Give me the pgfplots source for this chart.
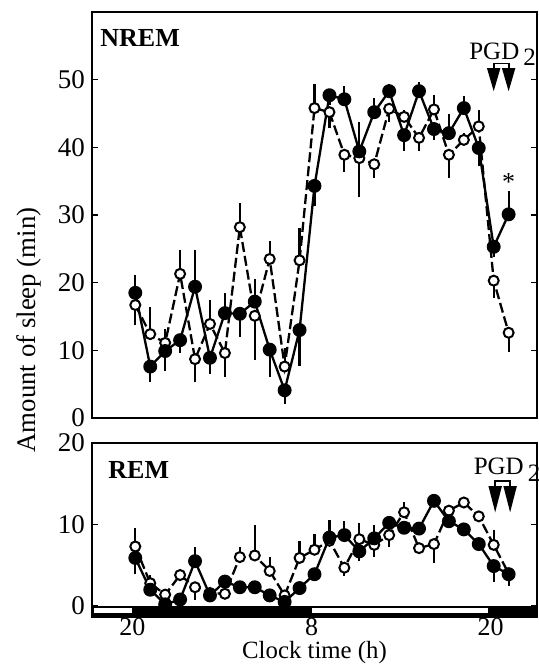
\documentclass[border=0pt]{standalone}
\usepackage{pgfplots}
\pgfplotsset{compat=1.18}
\usepackage{pgfplotstable}
\usepackage{fontspec}
\setmainfont{Liberation Serif}

% NREM, vehicle-like (filled) and open series; hours after 20:00
\pgfplotstableread{
x y ep em
0 18.5 2.7 0
1 7.6 0 2.3
2 9.9 0 2.9
3 11.5 0 1.9
4 19.4 5.5 0
5 8.9 0 2.4
6 15.5 3.0 0
7 15.4 0 3.5
8 17.2 3.3 0
9 10.1 0 4.1
10 4.1 0 2.0
11 13.0 0 5.3
12 34.3 0 3.0
13 47.7 0 1.5
14 47.1 2.0 0
15 39.4 4.4 6.7
16 45.2 2.1 0
17 48.3 1.0 0
18 41.8 0 2.4
19 48.3 1.3 0
20 42.7 0 1.6
21 42.1 2.9 0
22 45.8 1.8 0
23 39.9 0 2.7
24 25.3 0 1.5
25 30.1 3.5 0
}\nremF
\pgfplotstableread{
x y ep em
0 16.7 0 2.9
1 12.4 4.0 0
2 11.1 2.0 0
3 21.3 3.5 0
4 8.7 0 3.4
5 13.9 3.5 0
6 9.6 0 3.6
7 28.2 3.6 0
8 15.1 0 6.6
9 23.5 2.7 0
10 7.6 2.8 0
11 23.3 4.8 0
12 45.8 3.5 0
13 45.2 0 2.4
14 38.9 0 2.5
15 38.4 0 0
16 37.5 0 2.1
17 45.7 0 1.9
18 44.5 1.0 0
19 41.4 0 2.0
20 45.6 2.1 0
21 38.9 0 3.5
22 41.1 1.0 0
23 43.1 2.4 0
24 20.3 0 2.5
25 12.6 0 2.9
}\nremO
\pgfplotstableread{
x y ep em
0 5.9 0 2.0
1 2.0 0 0
2 0.2 0 0
3 0.8 0 0
4 5.5 1.8 0
5 1.3 0 0
6 3.0 0 0
7 2.3 0 0
8 2.3 0 0
9 1.3 0 0
10 0.5 0 0
11 2.2 0 0
12 3.9 0 0
13 8.4 2.1 0
14 8.7 1.7 0
15 6.7 0 1.2
16 8.3 1.6 0
17 10.2 0 0
18 9.6 0 0
19 9.5 0 0
20 12.9 0.8 0
21 10.4 0 0
22 9.4 0 0
23 7.6 0 0
24 4.9 0 2.0
25 3.9 0 1.5
}\remF
\pgfplotstableread{
x y ep em
0 7.3 2.3 0
1 2.8 1.0 0
2 1.4 0 0
3 3.8 0 0
4 2.3 0 1.6
5 1.6 0 0
6 1.5 0 0
7 6.0 1.2 0
8 6.2 3.7 0
9 4.3 1.7 0
10 1.3 0 0
11 5.9 2.1 0
12 6.9 1.9 0
13 8.0 0 0
14 4.7 0 1.0
15 8.2 2.0 0
16 7.5 0 1.5
17 8.7 0 1.5
18 11.5 1.2 0
19 7.1 0 0
20 7.6 0 2.3
21 11.7 0 0
22 12.7 0 0
23 11.0 0 0
24 7.5 1.8 0
25 4.0 0 0
}\remO

\pgfplotsset{
  sleepaxis/.style={
    scale only axis, width=222.5pt,
    xmin=-2.9, xmax=26.9,
    axis line style={line width=1.3pt},
    tick style={line width=0.8pt, black},
    major tick length=3pt,
    tick align=inside,
    clip=false,
    ticklabel style={font=\fontsize{13.5}{15}\selectfont},
    /pgf/number format/assume math mode=true,
  },
  filledser/.style={
    black, line width=1.15pt, solid,
    mark=*, mark size=2.9pt, mark options={solid, fill=black},
    error bars/y dir=both, error bars/y explicit,
    error bars/error mark=none,
    error bars/error bar style={line width=1.1pt, solid},
  },
  openser/.style={
    black, line width=1.15pt, dash pattern=on 5pt off 2pt,
    mark=*, mark size=2.5pt, mark options={solid, fill=white, line width=1pt},
    error bars/y dir=both, error bars/y explicit,
    error bars/error mark=none,
    error bars/error bar style={line width=1.1pt, solid},
  },
}

\begin{document}
\begin{tikzpicture}
\useasboundingbox (0,0) rectangle (269.5pt,-332pt);

% NREM panel
\begin{axis}[sleepaxis, at={(46pt,-209pt)}, anchor=south west,
  height=203pt, ymin=0, ymax=60, ytick={0,10,...,50}, xtick=\empty]
  \addplot[openser] table[x=x, y=y, y error plus=ep, y error minus=em] {\nremO};
  \addplot[filledser] table[x=x, y=y, y error plus=ep, y error minus=em] {\nremF};
  \node[anchor=west, font=\bfseries\fontsize{13}{15}\selectfont, inner sep=0pt]
    at (rel axis cs:0.018,0.936) {NREM};
  \node[font=\fontsize{13}{15}\selectfont, inner sep=0pt] at (axis cs:25,34.9) {*};
  \node[anchor=base, font=\fontsize{12.5}{14}\selectfont, inner sep=0pt]
    at (axis cs:24.6,53.0) {PGD\,\raisebox{-0.55ex}{2}};
  \draw[line width=0.9pt] (axis cs:24,51.7) -- (axis cs:24,52.4) -- (axis cs:25,52.4) -- (axis cs:25,51.7);
  \fill (axis cs:23.55,51.7) -- (axis cs:24.45,51.7) -- (axis cs:24,48.3) -- cycle;
  \fill (axis cs:24.55,51.7) -- (axis cs:25.45,51.7) -- (axis cs:25,48.3) -- cycle;
\end{axis}

% REM panel
\begin{axis}[sleepaxis, at={(46pt,-308.5pt)}, anchor=south west,
  height=87pt, ymin=-1.35, ymax=20, ytick={0,10,20},
  xtick={-0.2,11.8,23.8}, xticklabels={20,8,20},
  xtick style={draw=none},
  xticklabel style={anchor=base, yshift=-9.0pt, inner sep=0pt,
    font=\fontsize{13}{14}\selectfont},
  xlabel={Clock time (h)},
  xlabel style={at={(rel axis cs:0.5,0)}, anchor=base, yshift=-20.9pt,
    inner sep=0pt, font=\fontsize{12.4}{13}\selectfont}]
  \fill[black] (axis cs:-2.9,-1.35) rectangle (axis cs:26.9,0.05);
  \fill[white] (axis cs:-2.75,-0.85) rectangle (axis cs:-0.2,-0.3);
  \fill[white] (axis cs:11.85,-0.85) rectangle (axis cs:23.6,-0.3);
  \addplot[openser] table[x=x, y=y, y error plus=ep, y error minus=em] {\remO};
  \addplot[filledser] table[x=x, y=y, y error plus=ep, y error minus=em] {\remF};
  \node[anchor=west, font=\bfseries\fontsize{13}{15}\selectfont, inner sep=0pt]
    at (rel axis cs:0.036,0.845) {REM};
  \node[anchor=base, font=\fontsize{12.5}{14}\selectfont, inner sep=0pt]
    at (axis cs:24.9,16.1) {PGD\,\raisebox{-0.55ex}{2}};
  \draw[line width=0.9pt] (axis cs:24.1,14.7) -- (axis cs:24.1,15.3) -- (axis cs:25.1,15.3) -- (axis cs:25.1,14.7);
  \fill (axis cs:23.65,14.7) -- (axis cs:24.55,14.7) -- (axis cs:24.1,11.5) -- cycle;
  \fill (axis cs:24.65,14.7) -- (axis cs:25.55,14.7) -- (axis cs:25.1,11.5) -- cycle;
\end{axis}

\node[rotate=90, font=\fontsize{13.4}{15}\selectfont] at (14.5pt,-165pt) {Amount of sleep (min)};
\end{tikzpicture}
\end{document}
